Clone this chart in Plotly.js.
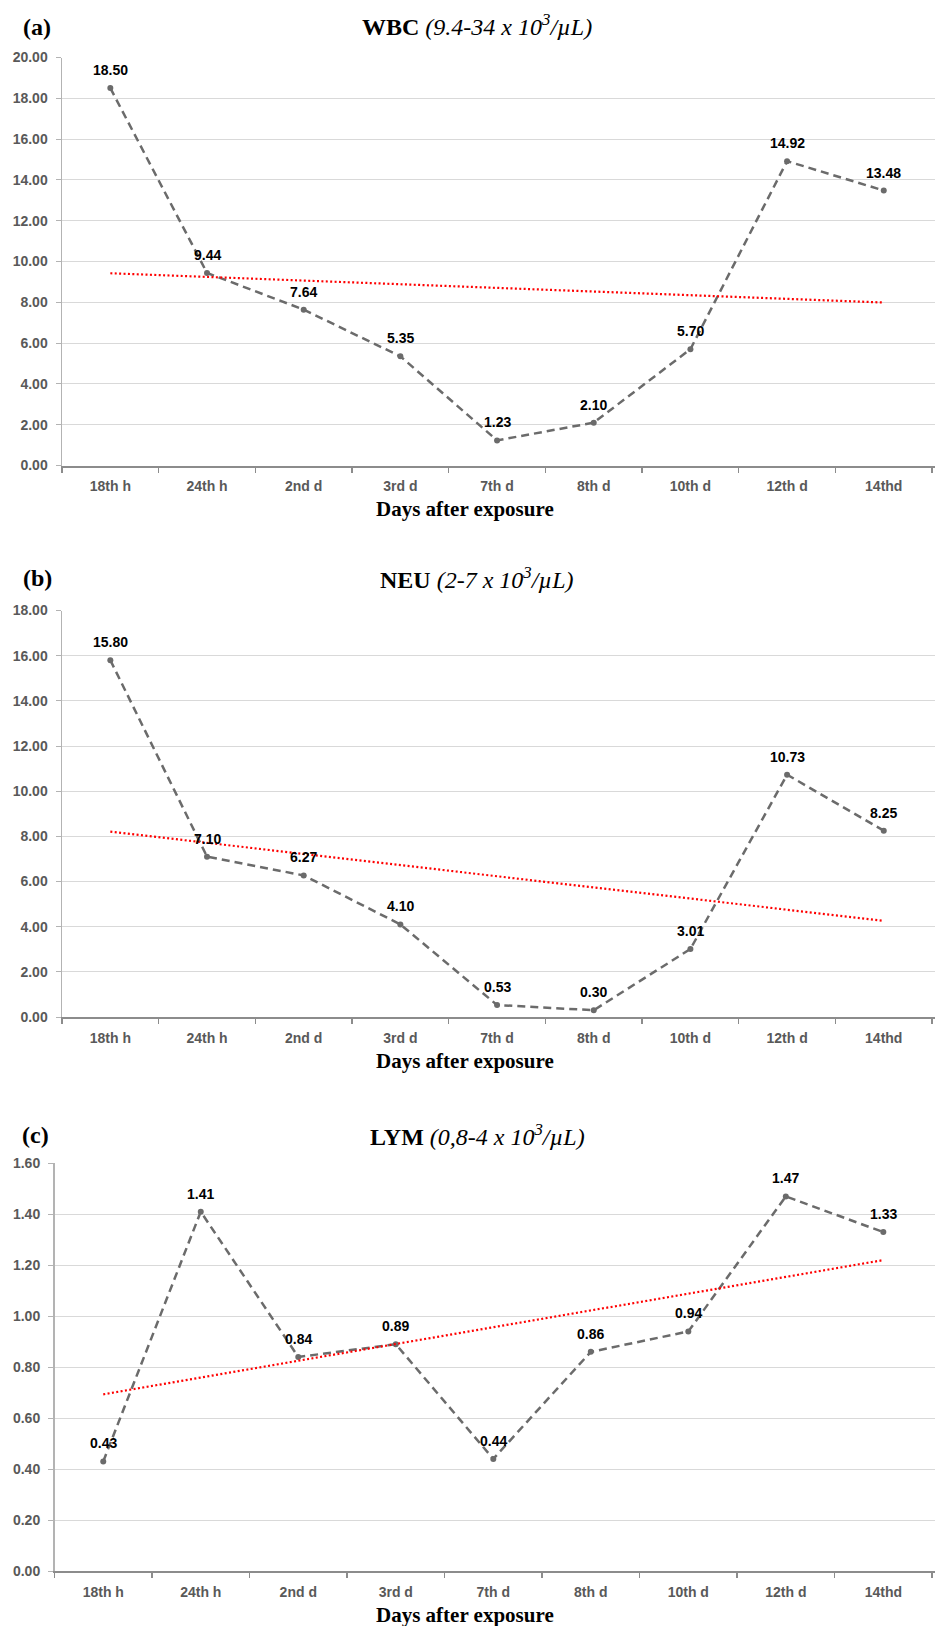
<!DOCTYPE html>
<html>
<head>
<meta charset="utf-8">
<script src="https://cdn.plot.ly/plotly-3.0.1.min.js"></script>
<style>html,body{margin:0;padding:0;background:#fff;}#chart{width:935px;height:1626px;}</style>
</head>
<body>
<div id="chart"></div>
<script>
// ---- data ----
const categories = ["18th h", "24th h", "2nd d", "3rd d", "7th d", "8th d", "10th d", "12th d", "14thd"];
const wbcValues = [18.50, 9.44, 7.64, 5.35, 1.23, 2.10, 5.70, 14.92, 13.48];
const neuValues = [15.80, 7.10, 6.27, 4.10, 0.53, 0.30, 3.01, 10.73, 8.25];
const lymValues = [0.43, 1.41, 0.84, 0.89, 0.44, 0.86, 0.94, 1.47, 1.33];
const panelLetters = ["(a)", "(b)", "(c)"];
const panelTitles = [
  "<b>WBC</b> <i>(9.4-34 x 10<sup>3</sup>/µL)</i>",
  "<b>NEU</b> <i>(2-7 x 10<sup>3</sup>/µL)</i>",
  "<b>LYM</b> <i>(0,8-4 x 10<sup>3</sup>/µL)</i>"
];
const xAxisTitle = "Days after exposure";
const yRanges = [[0, 20], [0, 18], [0, 1.6]];
const yTickSteps = [2, 2, 0.2];

// ---- layout geometry (pixels) ----
const W = 935, H = 1626;
const panels = [
  {top: 57.5, bottom: 465.5, left: 62, letterX: 37, letterY: 27, titleY: 25, axTitleY: 509},
  {top: 610.5, bottom: 1017, left: 62, letterX: 37, letterY: 578, titleY: 578, axTitleY: 1061},
  {top: 1163.3, bottom: 1571, left: 54.5, letterX: 35, letterY: 1135, titleY: 1135, axTitleY: 1615}
];
const py = p => 1 - p / H;
const px = p => p / W;

const seriesList = [wbcValues, neuValues, lymValues];
const lineColor = "#6b6b6b";
const tickFont = {family: "Liberation Sans, Arial, sans-serif", size: 14, color: "#595959", weight: "bold"};

function linearFit(vals) {
  const n = vals.length;
  const xs = vals.map((_, i) => i + 1);
  const mx = xs.reduce((a, b) => a + b, 0) / n;
  const my = vals.reduce((a, b) => a + b, 0) / n;
  let sxy = 0, sxx = 0;
  for (let i = 0; i < n; i++) { sxy += (xs[i] - mx) * (vals[i] - my); sxx += (xs[i] - mx) ** 2; }
  const b = sxy / sxx, a = my - b * mx;
  return xs.map(x => a + b * x);
}

const data = [];
const layout = {
  width: W, height: H,
  margin: {l: 0, r: 0, t: 0, b: 0},
  paper_bgcolor: "#ffffff", plot_bgcolor: "#ffffff",
  showlegend: false,
  annotations: []
};

seriesList.forEach((vals, k) => {
  const sfx = k === 0 ? "" : String(k + 1);
  const xa = "x" + sfx, ya = "y" + sfx;
  const P = panels[k];
  data.push({
    type: "scatter", mode: "lines+markers", x: categories, y: vals,
    xaxis: xa, yaxis: ya,
    line: {color: lineColor, width: 2.5, dash: "8px,5px"},
    marker: {color: lineColor, size: 6},
    hoverinfo: "x+y"
  });
  data.push({
    type: "scatter", mode: "lines", x: categories, y: linearFit(vals),
    xaxis: xa, yaxis: ya,
    line: {color: "#ff0000", width: 2.2, dash: "2px,2.4px"},
    hoverinfo: "skip"
  });
  layout["xaxis" + sfx] = {
    domain: [px(P.left), 1], anchor: ya,
    type: "category", categoryorder: "array", categoryarray: categories,
    range: [-0.5, 8.53],
    tickson: "boundaries", ticks: "outside", ticklen: 5, tickcolor: "#8c8c8c", tickwidth: 1.5,
    showline: true, linecolor: "#8c8c8c", linewidth: 2,
    showgrid: false, zeroline: false,
    tickfont: tickFont, ticklabelstandoff: 7,
    fixedrange: true
  };
  layout["yaxis" + sfx] = {
    domain: [py(P.bottom), py(P.top)], anchor: xa,
    range: yRanges[k], dtick: yTickSteps[k], tick0: 0, tickformat: ".2f",
    showgrid: true, gridcolor: "#d9d9d9", gridwidth: 1,
    showline: true, linecolor: "#b3b3b3", linewidth: 1.5,
    ticks: "outside", ticklen: 5, tickcolor: "#b3b3b3",
    zeroline: false, tickfont: tickFont, ticklabelstandoff: 5, fixedrange: true
  };
  // data labels
  vals.forEach((v, i) => {
    layout.annotations.push({
      xref: xa, yref: ya, x: categories[i], y: v,
      text: "<b>" + v.toFixed(2) + "</b>", showarrow: false, yshift: 18,
      font: {family: "Liberation Sans, Arial, sans-serif", size: 14, color: "#000000"}
    });
  });
  // panel letter
  layout.annotations.push({
    xref: "paper", yref: "paper", x: px(P.letterX), y: py(P.letterY),
    xanchor: "center", yanchor: "middle", showarrow: false,
    text: "<b>" + panelLetters[k] + "</b>",
    font: {family: "Liberation Serif, Times New Roman, serif", size: 24, color: "#000000"}
  });
  // title
  layout.annotations.push({
    xref: "paper", yref: "paper", x: px(477), y: py(P.titleY),
    xanchor: "center", yanchor: "middle", showarrow: false,
    text: panelTitles[k],
    font: {family: "Liberation Serif, Times New Roman, serif", size: 24, color: "#000000"}
  });
  // x axis title
  layout.annotations.push({
    xref: "paper", yref: "paper", x: px(465), y: py(P.axTitleY),
    xanchor: "center", yanchor: "middle", showarrow: false,
    text: "<b>" + xAxisTitle + "</b>",
    font: {family: "Liberation Serif, Times New Roman, serif", size: 21, color: "#000000"}
  });
});

Plotly.newPlot("chart", data, layout, {displayModeBar: false, staticPlot: true});
</script>
</body>
</html>
